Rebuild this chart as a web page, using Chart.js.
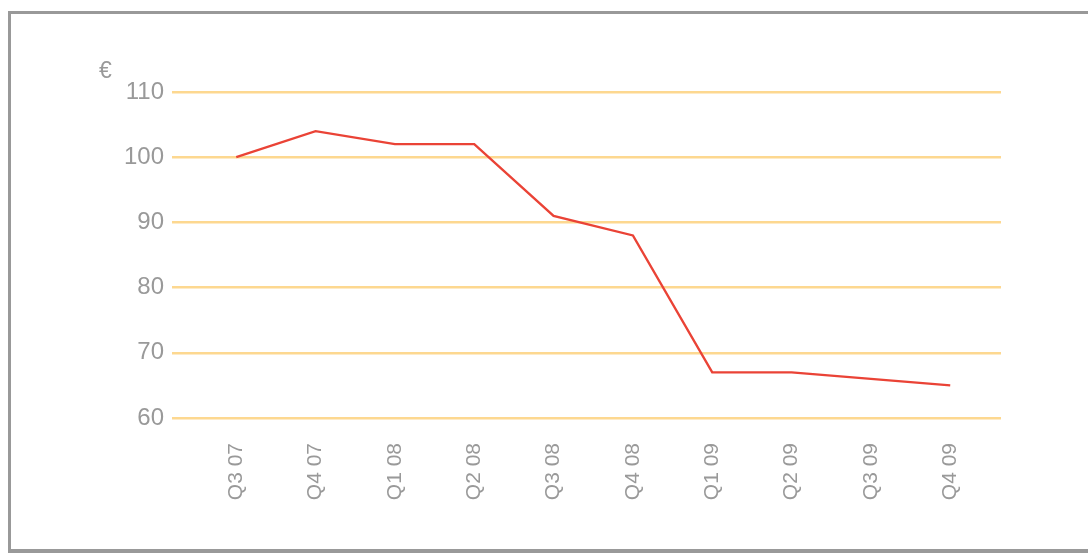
<!DOCTYPE html>
<html>
<head>
<meta charset="utf-8">
<script src="https://cdn.jsdelivr.net/npm/chart.js@4"></script>
<style>
  html, body { margin: 0; padding: 0; background: #fff; overflow: hidden; }
  #frame {
    position: absolute; left: 8px; top: 11px; width: 1100px; height: 542px;
    box-sizing: border-box; border: 3px solid #999; border-right: none; border-bottom-width: 4px;
  }
  #wrap { position: absolute; left: 0; top: 0; width: 1088px; height: 553px; }
</style>
</head>
<body>
<div id="frame"></div>
<div id="wrap"><canvas id="priceChart"></canvas></div>
<script>
const quarters = ['Q3 07', 'Q4 07', 'Q1 08', 'Q2 08', 'Q3 08', 'Q4 08', 'Q1 09', 'Q2 09', 'Q3 09', 'Q4 09'];
const prices = [100, 104, 102, 102, 91, 88, 67, 67, 66, 65];
const yTicks = [60, 70, 80, 90, 100, 110];
const unitLabel = '€';

const textGray = '#999999';
const fontFamily = '"Liberation Sans", Arial, Helvetica, sans-serif';

// euro sign above the y axis labels
const unitPlugin = {
  id: 'unitLabel',
  afterDraw(chart) {
    const ctx = chart.ctx;
    const y = chart.scales.y;
    ctx.save();
    ctx.fillStyle = textGray;
    ctx.font = '23px ' + fontFamily;
    ctx.textAlign = 'left';
    ctx.textBaseline = 'alphabetic';
    ctx.fillText(unitLabel, y.left + 99, y.getPixelForValue(110) - 14);
    ctx.restore();
  }
};

new Chart(document.getElementById('priceChart'), {
  type: 'line',
  data: {
    datasets: [{
      data: prices.map((v, i) => ({ x: i, y: v })),
      borderColor: '#ea4336',
      borderWidth: 2.4,
      pointRadius: 0,
      tension: 0,
      fill: false,
    }],
  },
  options: {
    responsive: true,
    maintainAspectRatio: false,
    animation: false,
    layout: { padding: { left: 0, right: 87, top: 92, bottom: 0 } },
    plugins: { legend: { display: false }, tooltip: { enabled: false } },
    scales: {
      x: {
        type: 'linear',
        min: -0.81,
        max: 9.64,
        afterBuildTicks: (scale) => { scale.ticks = quarters.map((q, i) => ({ value: i })); },
        afterFit: (scale) => { scale.height = 135; },
        grid: { display: false },
        border: { display: false },
        ticks: {
          autoSkip: false,
          minRotation: 90,
          maxRotation: 90,
          padding: 17,
          color: textGray,
          font: { family: fontFamily, size: 21 },
          callback: (v) => quarters[v],
        },
      },
      y: {
        min: 60,
        max: 110,
        afterBuildTicks: (scale) => { scale.ticks = yTicks.map(v => ({ value: v })); },
        afterFit: (scale) => { scale.width = 172; },
        grid: { color: '#fdd890', lineWidth: 2.4, drawTicks: false },
        border: { display: false },
        ticks: {
          padding: 8,
          color: textGray,
          font: { family: fontFamily, size: 24 },
        },
      },
    },
  },
  plugins: [unitPlugin],
});
</script>
</body>
</html>
